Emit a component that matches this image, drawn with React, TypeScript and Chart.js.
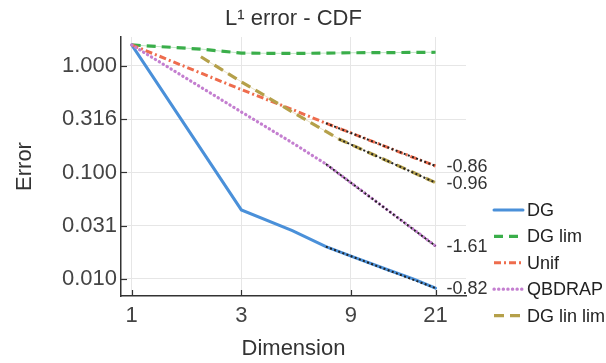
import React, { useEffect, useRef } from 'react';
import { Chart, registerables } from 'chart.js';

Chart.register(...registerables);

const FONT = "'Liberation Sans', Arial, Helvetica, sans-serif";

// Shared dimension grid (null = no point at that dimension)
const dims = [1, 2, 3, 5, 7, 8, 9, 13, 17, 21];
const dgErr = [1.575, null, 0.0445, 0.0285, 0.0201, null, 0.0164, 0.0122, 0.0099, 0.0082];
const dgLimErr = [1.575, 1.44, 1.32, 1.31, 1.32, null, 1.33, 1.335, 1.34, 1.345];
const unifErr = [1.575, null, 0.6, 0.39, 0.29, null, 0.235, 0.172, 0.137, 0.115];
const qbdrapErr = [1.575, null, 0.37, 0.19, 0.12, null, 0.08, 0.0443, 0.0288, 0.0204];
const dgLinLimErr = [null, 1.22, 0.71, 0.37, 0.243, 0.205, 0.183, 0.128, 0.0988, 0.0802];

// Fitted slopes (black dotted)
const dgFitDims = [7, 21];
const dgFitErr = [0.0201, 0.0082];
const unifFitDims = [7, 21];
const unifFitErr = [0.29, 0.115];
const qbdrapFitDims = [7, 21];
const qbdrapFitErr = [0.12, 0.0204];
const dgLinLimFitDims = [8, 21];
const dgLinLimFitErr = [0.205, 0.0802];
const slopeLabels = ['-0.82', '-0.86', '-1.61', '-0.96'];

// Axis ticks
const xTicks = [1, 3, 9, 21];
const xTickLabels = ['1', '3', '9', '21'];
const yTicks = [0.01, 0.0316, 0.1, 0.316, 1];
const yTickLabels = ['0.010', '0.031', '0.100', '0.316', '1.000'];

const toPoints = (xs: number[], ys: (number | null)[]) =>
  xs.map((x, i) => ({ x, y: ys[i] })).filter((p) => p.y !== null);

const decorPlugin = {
  id: 'decor',
  afterDraw(chart: any) {
    const ctx = chart.ctx;
    const area = chart.chartArea;
    const xs = chart.scales.x;
    const ys = chart.scales.y;
    ctx.save();
    // inward tick marks
    ctx.strokeStyle = '#333';
    ctx.lineWidth = 1.2;
    ctx.setLineDash([]);
    yTicks.forEach((v) => {
      const y = Math.round(ys.getPixelForValue(v)) + 0.5;
      ctx.beginPath();
      ctx.moveTo(area.left, y);
      ctx.lineTo(area.left + 6, y);
      ctx.stroke();
    });
    xTicks.forEach((v) => {
      const x = Math.round(xs.getPixelForValue(v)) + 0.5;
      ctx.beginPath();
      ctx.moveTo(x, area.bottom);
      ctx.lineTo(x, area.bottom - 6);
      ctx.stroke();
    });
    // slope annotations
    ctx.font = `18px ${FONT}`;
    ctx.fillStyle = '#333';
    ctx.textAlign = 'left';
    ctx.textBaseline = 'middle';
    chart.data.datasets.forEach((ds: any) => {
      if (!ds.slopeLabel) return;
      const last = ds.data[ds.data.length - 1];
      ctx.fillText(ds.slopeLabel, xs.getPixelForValue(last.x) + 11, ys.getPixelForValue(last.y) + 1);
    });
    // legend
    const items = chart.data.datasets.filter((ds: any) => ds.legendItem);
    items.forEach((ds: any, i: number) => {
      const y = area.bottom - 86 + i * 26.4;
      ctx.beginPath();
      ctx.strokeStyle = ds.borderColor;
      ctx.lineWidth = ds.borderWidth;
      ctx.lineCap = ds.borderCapStyle || 'butt';
      ctx.setLineDash(ds.borderDash || []);
      ctx.moveTo(area.right + 28, y);
      ctx.lineTo(area.right + 57, y);
      ctx.stroke();
      ctx.setLineDash([]);
      ctx.fillStyle = '#222';
      ctx.fillText(ds.label, area.right + 61, y + 1);
    });
    ctx.restore();
  },
};

export default function App() {
  const ref = useRef<HTMLCanvasElement>(null);
  useEffect(() => {
    document.body.style.margin = '0';
    const canvas = ref.current;
    if (!canvas) return;
    const blue = '#4a90d9';
    const green = '#3aae4a';
    const orange = '#ee6c4d';
    const purple = '#c47fd0';
    const olive = '#b5a04a';
    const fitColor = '#222';
    const base = { pointRadius: 0, tension: 0, spanGaps: true, fill: false };
    const chart = new Chart(canvas, {
      type: 'line',
      data: {
        datasets: [
          { ...base, label: 'DG', legendItem: true, data: toPoints(dims, dgErr), borderColor: blue, borderWidth: 3, borderCapStyle: 'round', order: 5 },
          { ...base, label: 'DG lim', legendItem: true, data: toPoints(dims, dgLimErr), borderColor: green, borderWidth: 3.2, borderDash: [9, 6], order: 4 },
          { ...base, label: 'Unif', legendItem: true, data: toPoints(dims, unifErr), borderColor: orange, borderWidth: 3, borderDash: [7, 3, 2, 3], order: 3 },
          { ...base, label: 'QBDRAP', legendItem: true, data: toPoints(dims, qbdrapErr), borderColor: purple, borderWidth: 3.2, borderDash: [0.3, 4.3], borderCapStyle: 'round', order: 2 },
          { ...base, label: 'DG lin lim', legendItem: true, data: toPoints(dims, dgLinLimErr), borderColor: olive, borderWidth: 3.2, borderDash: [10, 6], order: 1 },
          { ...base, label: 'DG lim band', data: toPoints(dims, dgLimErr), borderColor: 'rgba(58,174,74,0.3)', borderWidth: 1, order: 6 },
          { ...base, label: 'DG lin lim band', data: toPoints(dims, dgLinLimErr), borderColor: 'rgba(181,160,74,0.3)', borderWidth: 1, order: 6 },
          { ...base, label: 'DG fit', slopeLabel: slopeLabels[0], data: toPoints(dgFitDims, dgFitErr), borderColor: fitColor, borderWidth: 2, borderDash: [2, 2.4], order: 0 },
          { ...base, label: 'Unif fit', slopeLabel: slopeLabels[1], data: toPoints(unifFitDims, unifFitErr), borderColor: fitColor, borderWidth: 2, borderDash: [2, 2.4], order: 0 },
          { ...base, label: 'QBDRAP fit', slopeLabel: slopeLabels[2], data: toPoints(qbdrapFitDims, qbdrapFitErr), borderColor: fitColor, borderWidth: 2, borderDash: [2, 2.4], order: 0 },
          { ...base, label: 'DG lin lim fit', slopeLabel: slopeLabels[3], data: toPoints(dgLinLimFitDims, dgLinLimFitErr), borderColor: fitColor, borderWidth: 2, borderDash: [2, 2.4], order: 0 },
        ] as any,
      },
      options: {
        animation: false,
        responsive: false,
        devicePixelRatio: 1,
        layout: { padding: { left: 0, right: 140, top: 0, bottom: 0 } },
        plugins: {
          legend: { display: false },
          tooltip: { enabled: false },
          title: {
            display: true,
            fullSize: false,
            text: 'L¹ error - CDF',
            color: '#333',
            font: { family: FONT, size: 22, weight: 'normal' },
            padding: { top: 6, bottom: 4.6 },
          },
        },
        scales: {
          x: {
            type: 'logarithmic',
            min: 0.898,
            max: 28.5,
            bounds: 'data',
            afterBuildTicks: (scale: any) => {
              scale.ticks = xTicks.map((v) => ({ value: v }));
            },
            afterFit: (scale: any) => {
              scale.height = 67;
            },
            ticks: {
              autoSkip: false,
              maxRotation: 0,
              padding: 7,
              color: '#444',
              font: { family: FONT, size: 22 },
              callback: (_v: any, i: number) => xTickLabels[i],
            },
            grid: { color: '#e6e6e6', lineWidth: 1, drawTicks: false },
            border: { display: true, color: '#333', width: 1.5 },
            title: {
              display: true,
              text: 'Dimension',
              color: '#333',
              font: { family: FONT, size: 22 },
              padding: { top: 0, bottom: 1 },
            },
          },
          y: {
            type: 'logarithmic',
            min: 0.00692,
            max: 1.87,
            bounds: 'data',
            afterBuildTicks: (scale: any) => {
              scale.ticks = yTicks.map((v) => ({ value: v }));
            },
            afterFit: (scale: any) => {
              scale.width = 121;
            },
            ticks: {
              autoSkip: false,
              padding: 4,
              color: '#444',
              font: { family: FONT, size: 22 },
              callback: (_v: any, i: number) => yTickLabels[i],
            },
            grid: { color: '#e6e6e6', lineWidth: 1, drawTicks: false },
            border: { display: true, color: '#333', width: 1.5 },
            title: {
              display: true,
              text: 'Error',
              color: '#333',
              font: { family: FONT, size: 22 },
              padding: { top: 12, bottom: 0 },
            },
          },
        },
      } as any,
      plugins: [decorPlugin],
    });
    return () => chart.destroy();
  }, []);
  return (
    <div style={{ width: 606, height: 363 }}>
      <canvas ref={ref} width={606} height={363} style={{ display: 'block' }} />
    </div>
  );
}
